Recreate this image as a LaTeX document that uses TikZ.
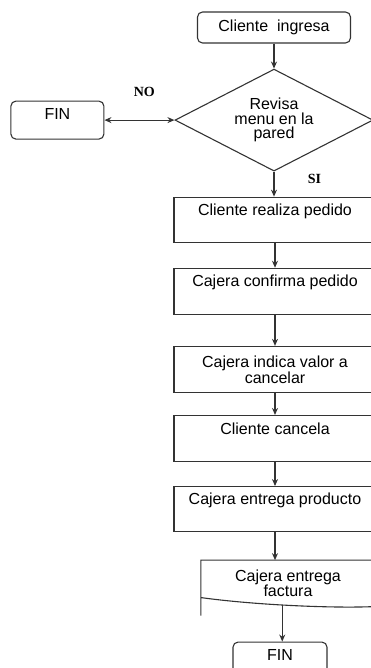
\documentclass[tikz,border=0pt]{standalone}
\usepackage{fontspec}
\setmainfont{Liberation Sans}
\newfontfamily\labelfont{Liberation Serif}
\usepackage{tikz}
\usetikzlibrary{shapes.geometric, arrows.meta, positioning}
\definecolor{lineg}{HTML}{333333}

\begin{document}
\begin{tikzpicture}[
    x=1pt, y=-1pt,
    >={Stealth[length=7pt,width=6pt]},
    base/.style={draw=lineg, line width=1.1pt, align=center, inner xsep=2pt, font=\fontsize{16}{16}\selectfont},
    stepbox/.style={base, rectangle, minimum width=202pt, minimum height=46pt},
    topbox/.style={stepbox, minimum height=45pt, inner ysep=4pt, text height=13pt, text depth=22pt},
    endbox/.style={base, rectangle, rounded corners=5pt, minimum width=94pt, minimum height=38pt, inner ysep=4pt, text height=14pt, text depth=16pt},
    decision/.style={base, diamond, shape aspect=2, inner sep=0pt, minimum width=198pt, minimum height=102pt, font=\fontsize{16}{14.5}\selectfont},
    docbox/.style={align=center, minimum width=174pt, minimum height=46pt, inner sep=0pt, font=\fontsize{16}{15}\selectfont},
    lbl/.style={font=\labelfont\bfseries\fontsize{14}{14}\selectfont},
    arrow/.style={->, draw=lineg, line width=1.1pt}
]
\useasboundingbox (0,0) rectangle (371,668);
\clip (0,0) rectangle (371,668);

% Main column
\node[base, rectangle, rounded corners=5pt, minimum width=153pt, minimum height=31pt] (ingresa) at (274,27.5) {Cliente\ \ ingresa};
\node[decision, below=25pt of ingresa] (revisa) {Revisa\\menu en la\\pared};
\node[topbox, below=25pt of revisa, xshift=1pt] (pedido) {Cliente realiza pedido};
\node[topbox, below=25pt of pedido, minimum height=46pt] (confirma) {Cajera confirma pedido};
\node[stepbox, below=31pt of confirma] (valor) {Cajera indica valor a\\cancelar};
\node[topbox, below=22pt of valor, minimum height=46pt] (cancela) {Cliente cancela};
\node[topbox, below=24pt of cancela] (producto) {Cajera entrega producto};
\node[docbox, below=28pt of producto, xshift=13pt] (factura) {Cajera entrega\\factura};
\node[endbox, below=35pt of factura, xshift=-8pt] (finend) {FIN};

% Left branch
\node[endbox, rounded corners=5pt, minimum width=93pt, left=70pt of revisa] (finno) {FIN};

% Document outline
\draw[draw=lineg, line width=1.1pt] (factura.south west) ++(0,9) -- (factura.north west) -- (factura.north east)
    -- (factura.south east) .. controls ++(-45,2) and ++(50,7) .. ([yshift=9pt]factura.south west)
    coordinate[pos=0.54] (wave);

% Connectors
\draw[arrow] (ingresa) -- (revisa);
\draw[<->, draw=lineg, line width=1.1pt] (finno.east) -- (revisa.west)
    node[pos=0.57, above=20pt, lbl] {NO};
\draw[arrow] (revisa.south) -- (revisa.south |- pedido.north)
    node[pos=0.3, right=30pt, lbl] {SI};
\draw[arrow] (pedido) -- (confirma);
\draw[arrow] (confirma) -- (valor);
\draw[arrow] (valor) -- (cancela);
\draw[arrow] (cancela) -- (producto);
\draw[arrow] (producto.south) -- (producto.south |- factura.north);
\draw[arrow] (wave) -- (wave |- finend.north);

\end{tikzpicture}
\end{document}
